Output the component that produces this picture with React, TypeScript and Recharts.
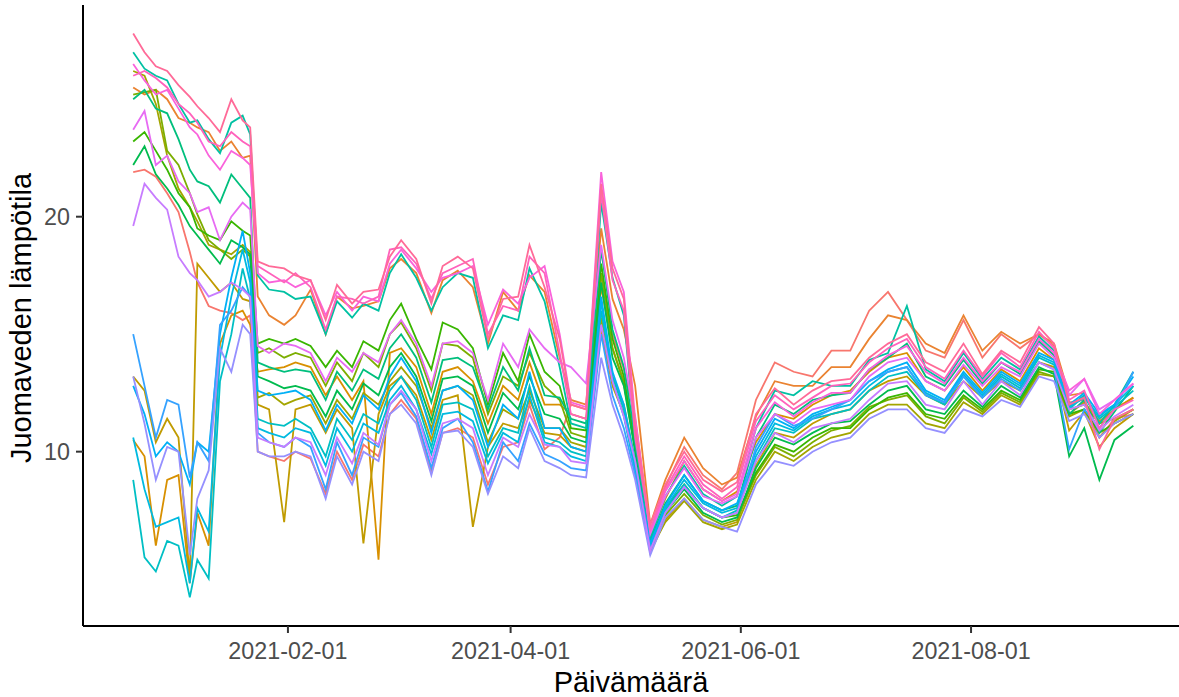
import { LineChart, Line, XAxis, YAxis, Label } from "recharts";

// day index counted from 2021-01-01 (0 = 2021-01-01)
const days = [
  -10, -7, -4, -1, 2, 5, 7, 10, 13, 16, 19, 21,
  23, 26, 30, 33, 37, 41, 44, 48, 51, 55, 58, 61, 65, 69, 72, 76, 80, 84,
  88, 92, 95, 99, 103, 106, 110,
  114, 117, 120, 123, 127, 131, 136, 141, 146, 150,
  155, 160, 165, 170, 175, 180, 185, 190, 195, 200, 205, 210, 215, 220, 225, 230, 234, 238, 242, 246, 250, 255,
];

const s01 = [
  21.9, 22.0, 21.7, 21.0, 20.2, 18.5, 17.2, 16.2, 16.0, 15.9, 15.6, 15.8,
  10.0, 9.8, 9.6, 10.0, 9.7, 8.2, 10.0, 8.8, 10.3, 9.8, 11.6, 12.2, 11.4, 9.1, 10.8, 11.0, 10.6, 8.6,
  10.2, 10.4, 12.0, 10.1, 10.6, 12.0, 11.8,
  17.5, 15.0, 13.5, 11.5, 6.6, 8.5, 10.2, 9.0, 8.4, 9.1,
  12.2, 13.8, 13.4, 13.2, 14.3, 14.3, 16.0, 16.8, 15.6, 14.3, 14.0, 15.6, 14.0, 15.0, 14.4, 15.0, 14.5, 12.1, 12.2, 10.6, 11.4, 11.6,
];
const s02 = [
  25.5, 25.2, 25.4, 25.0, 24.2, 24.0, 23.8, 23.6, 22.8, 23.2, 22.5, 22.6,
  16.6, 15.8, 15.4, 15.8, 16.9, 15.0, 16.6, 16.1, 16.2, 16.4, 17.8, 18.2, 17.6, 15.9, 17.3, 17.7, 17.0, 14.6,
  16.8, 16.0, 17.5, 16.8, 14.0, 12.2, 12.0,
  19.5, 16.5, 15.2, 12.8, 6.9, 8.8, 10.6, 9.3, 8.6, 8.9,
  11.5, 13.0, 12.8, 12.8, 13.6, 13.6, 14.8, 15.8, 15.6, 14.6, 14.2, 15.8, 14.3, 15.1, 14.6, 15.0, 14.6, 12.4, 12.5, 11.2, 11.8, 12.3,
];
const s03 = [
  10.5, 9.8, 6.0, 8.8, 9.0, 4.4, 7.4, 6.0, 14.6, 15.8, 16.0, 15.4,
  13.4, 13.5, 13.6, 13.8, 13.6, 12.4, 13.2, 12.2, 13.0, 5.4, 14.2, 14.4, 13.6, 11.6, 13.4, 13.6, 13.0, 11.2,
  12.8, 12.2, 13.8, 12.0, 12.0, 11.6, 11.4,
  17.0, 14.4, 13.0, 10.2, 6.4, 8.0, 9.6, 8.4, 7.9, 8.3,
  10.4, 11.6, 11.4, 12.0, 12.4, 12.6, 13.4, 14.0, 14.2, 13.0, 12.6, 13.6, 12.6, 13.5, 13.0, 14.4, 13.9, 11.6, 12.1, 11.3, 11.8, 12.3,
];
const s04 = [
  13.2, 12.6, 10.4, 11.4, 10.6, 4.6, 18.0, 17.4, 16.8, 17.2, 16.5, 16.4,
  12.0, 11.8, 7.0, 11.8, 12.0, 10.8, 11.8, 11.0, 6.1, 11.6, 12.8, 13.2, 12.4, 10.5, 12.2, 12.4, 6.8, 10.2,
  11.2, 11.0, 12.2, 10.8, 10.7, 10.2, 10.0,
  15.2, 12.8, 11.6, 9.3, 5.7, 7.1, 8.0, 7.1, 6.8, 7.0,
  9.4, 10.8, 10.6, 11.2, 11.6, 11.8, 12.6, 13.0, 13.2, 12.4, 12.0, 13.0, 12.3, 13.0, 12.6, 13.8, 13.6, 10.9, 11.7, 10.2, 11.0, 11.6,
];
const s05 = [
  26.2, 26.0, 24.8, 22.6, 21.2, 20.4, 19.8, 18.8, 18.6, 18.4, 18.8, 18.5,
  12.3, 12.5, 12.0, 12.2, 12.4, 11.2, 12.2, 11.4, 12.5, 12.0, 13.0, 13.6, 12.8, 11.0, 12.6, 12.8, 12.4, 10.4,
  11.8, 11.4, 12.6, 11.0, 11.0, 10.4, 10.2,
  15.7, 13.2, 12.0, 9.6, 5.8, 7.0, 7.9, 7.0, 6.7, 6.9,
  8.8, 10.0, 9.6, 10.2, 10.6, 10.8, 11.6, 12.0, 12.0, 11.2, 11.0, 12.1, 11.6, 12.4, 12.0, 13.3, 13.2, 11.5, 11.8, 10.6, 11.3, 11.8,
];
const s06 = [
  25.2, 25.3, 25.4, 22.8, 22.2, 21.0, 20.1, 19.0, 18.6, 18.2, 18.6, 18.3,
  14.2, 14.4, 14.0, 14.2, 14.0, 12.8, 13.8, 13.0, 14.2, 13.6, 15.0, 15.5, 14.4, 12.6, 14.6, 14.5, 14.0, 11.6,
  13.2, 12.8, 14.2, 12.8, 12.2, 10.8, 10.6,
  17.6, 14.4, 12.9, 10.1, 6.0, 7.3, 8.2, 7.3, 6.9, 7.1,
  9.0, 10.2, 9.8, 10.4, 10.9, 11.1, 11.9, 12.2, 12.4, 11.5, 11.2, 12.3, 11.7, 12.5, 12.1, 13.4, 13.2, 11.8, 12.0, 11.2, 11.4, 11.8,
];
const s07 = [
  23.2, 23.6, 22.8, 22.0, 21.0, 20.4, 19.5, 19.2, 19.0, 19.8, 19.4, 19.2,
  14.6, 14.8, 14.6, 14.8, 14.5, 13.6, 14.3, 13.6, 14.7, 14.3, 15.6, 16.3, 14.8, 13.5, 15.5, 15.2, 14.4, 12.0,
  14.2, 13.0, 15.0, 13.4, 12.8, 11.0, 10.9,
  18.0, 14.8, 13.2, 10.3, 6.1, 7.6, 8.6, 7.6, 7.2, 7.3,
  9.1, 10.3, 10.0, 10.6, 11.0, 11.0, 11.8, 12.3, 12.5, 11.6, 11.4, 12.4, 11.8, 12.6, 12.2, 13.5, 13.4, 11.6, 11.8, 10.8, 11.2, 11.6,
];
const s08 = [
  22.2, 23.0, 21.8, 21.2, 20.5, 19.6, 19.2, 18.6, 18.0, 19.0, 18.7, 18.4,
  13.2, 13.0, 12.7, 12.8, 12.6, 11.5, 12.6, 11.8, 12.9, 12.4, 13.6, 14.2, 13.2, 11.3, 13.1, 13.2, 12.8, 10.8,
  12.5, 11.8, 13.2, 11.6, 11.4, 10.6, 10.4,
  17.2, 14.0, 12.8, 10.0, 5.9, 7.4, 8.4, 7.4, 7.0, 7.2,
  9.3, 10.6, 10.3, 10.8, 11.2, 11.3, 12.0, 12.6, 12.8, 11.8, 11.6, 12.6, 11.9, 12.8, 12.3, 13.6, 13.3, 9.8, 11.0, 8.8, 10.5, 11.1,
];
const s09 = [
  25.0, 25.4, 24.6, 24.4, 23.3, 22.0, 21.5, 21.3, 20.6, 21.8, 21.2, 20.8,
  13.8, 13.6, 13.4, 13.5, 13.4, 12.2, 13.4, 12.6, 13.5, 13.1, 14.4, 15.0, 14.0, 12.1, 13.9, 14.0, 13.6, 11.8,
  13.6, 12.6, 14.4, 12.4, 12.3, 11.4, 11.2,
  18.6, 15.2, 13.6, 10.6, 6.2, 7.8, 9.0, 7.9, 7.5, 7.7,
  10.6, 12.0, 11.6, 12.2, 12.4, 12.5, 13.5, 14.0, 14.6, 13.2, 12.8, 13.9, 12.9, 13.8, 13.3, 14.7, 14.1, 11.6, 12.2, 10.8, 11.7, 12.8,
];
const s10 = [
  27.0, 26.3, 26.0, 25.8, 24.8, 24.0, 24.1, 23.3, 22.7, 24.0, 24.3, 23.5,
  17.5, 16.9, 16.8, 16.5, 16.6, 15.0, 16.4, 15.7, 16.3, 16.0, 17.6, 18.4, 17.4, 16.0, 17.0, 17.6, 17.4, 14.4,
  15.8, 15.6, 17.8, 16.4, 13.6, 11.2, 11.0,
  20.6, 17.4, 15.8, 10.4, 6.3, 8.1, 9.4, 8.2, 7.7, 8.1,
  11.0, 12.6, 12.4, 13.0, 12.8, 12.8, 13.9, 14.2, 16.2, 13.5, 13.0, 14.2, 13.1, 14.0, 13.5, 14.9, 14.3, 11.9, 12.4, 11.2, 12.0, 13.4,
];
const s11 = [
  8.8, 5.5, 4.9, 6.2, 6.0, 3.8, 5.4, 4.6, 13.0, 15.0, 17.8, 16.5,
  11.4, 11.2, 11.1, 11.4, 11.0, 9.8, 11.4, 10.5, 11.6, 11.2, 12.6, 13.2, 12.2, 10.2, 12.0, 12.1, 11.8, 9.8,
  11.0, 10.8, 12.8, 10.6, 10.4, 10.0, 9.8,
  16.0, 13.2, 11.8, 9.4, 5.9, 7.5, 8.6, 7.6, 7.2, 7.5,
  9.6, 11.0, 10.8, 11.4, 11.6, 11.8, 12.6, 13.2, 13.4, 12.4, 12.0, 13.2, 12.3, 13.2, 12.7, 14.0, 13.7, 11.8, 12.4, 11.4, 11.9, 12.6,
];
const s12 = [
  10.6, 8.4, 6.8, 7.0, 7.2, 4.4, 7.6, 6.6, 14.0, 16.6, 18.6, 17.2,
  11.0, 10.8, 10.6, 11.0, 10.8, 9.4, 11.0, 10.0, 11.2, 10.8, 12.2, 12.8, 11.8, 9.9, 11.6, 11.7, 11.3, 9.5,
  10.8, 10.4, 12.4, 10.4, 10.2, 9.8, 9.6,
  16.4, 13.0, 11.5, 9.2, 6.0, 7.6, 8.8, 7.8, 7.4, 7.6,
  9.8, 11.2, 10.9, 11.5, 11.8, 12.0, 12.8, 13.4, 13.6, 12.5, 12.1, 13.3, 12.4, 13.3, 12.8, 14.1, 13.8, 11.9, 12.3, 11.5, 12.0, 12.8,
];
const s13 = [
  12.8, 11.6, 9.8, 10.4, 10.0, 8.6, 10.4, 10.0, 15.0, 17.4, 19.4, 17.6,
  12.6, 12.4, 12.5, 12.6, 12.2, 10.9, 12.0, 11.2, 12.4, 11.8, 13.2, 14.0, 13.0, 10.8, 12.6, 12.8, 12.2, 10.2,
  12.0, 11.4, 13.4, 11.0, 11.0, 10.2, 10.0,
  16.6, 13.4, 12.0, 9.6, 6.1, 7.7, 9.0, 7.9, 7.5, 7.8,
  10.0, 11.4, 11.0, 11.6, 11.9, 12.2, 13.0, 13.5, 13.8, 12.6, 12.2, 13.4, 12.5, 13.4, 12.9, 14.2, 13.9, 12.0, 12.5, 11.6, 12.0, 13.2,
];
const s14 = [
  15.0, 12.8, 10.6, 12.2, 12.0, 8.9, 10.4, 9.6, 15.4, 16.0, 17.0, 16.6,
  10.8, 10.4, 10.2, 10.6, 10.2, 8.4, 10.4, 9.0, 10.6, 10.2, 12.0, 12.5, 11.5, 9.3, 11.0, 11.4, 10.4, 8.3,
  10.4, 9.6, 11.2, 9.9, 9.6, 9.3, 9.2,
  15.0, 12.4, 11.0, 9.0, 5.8, 7.4, 8.5, 7.6, 7.2, 7.4,
  10.2, 11.6, 11.1, 11.4, 11.8, 12.2, 13.0, 13.4, 13.6, 12.4, 12.1, 13.2, 12.3, 13.1, 12.6, 13.8, 13.5, 10.1, 11.8, 11.0, 11.8, 13.4,
];
const s15 = [
  13.2, 11.2, 8.8, 10.2, 10.0, 5.6, 8.0, 9.2, 14.4, 13.4, 15.4, 15.0,
  10.0, 9.8, 9.8, 10.0, 9.8, 8.0, 9.8, 8.6, 10.0, 9.6, 11.6, 12.0, 11.2, 9.0, 10.8, 10.9, 10.2, 8.2,
  9.8, 9.3, 11.0, 9.6, 9.3, 9.0, 8.9,
  14.0, 12.0, 10.6, 8.8, 5.6, 7.2, 8.0, 7.1, 6.8, 6.6,
  8.6, 9.6, 9.4, 10.0, 10.4, 10.6, 11.4, 11.8, 11.8, 11.0, 10.8, 11.8, 11.5, 12.2, 11.9, 13.2, 13.0, 11.3, 11.6, 10.6, 11.2, 11.6,
];
const s16 = [
  19.6, 21.4, 20.8, 20.3, 18.3, 17.6, 17.3, 16.6, 16.8, 17.2, 16.9, 16.6,
  10.6, 10.4, 10.2, 10.6, 10.4, 9.0, 10.6, 9.5, 10.8, 10.3, 12.0, 12.6, 11.8, 9.6, 11.2, 11.4, 11.0, 9.0,
  10.6, 10.2, 11.6, 10.3, 10.2, 9.6, 9.5,
  15.4, 13.0, 11.5, 9.6, 5.8, 7.4, 8.5, 7.6, 7.2, 7.4,
  9.6, 10.8, 10.4, 11.0, 11.2, 11.4, 12.2, 12.9, 13.0, 12.0, 11.8, 13.0, 12.0, 13.0, 12.4, 13.8, 13.5, 11.8, 12.0, 10.9, 11.5, 12.0,
];
const s17 = [
  23.7, 24.5, 22.2, 22.6, 21.5, 21.0, 20.2, 20.4, 19.0, 20.0, 20.6, 20.3,
  14.5, 14.2, 14.6, 14.5, 14.2, 13.0, 14.0, 13.4, 14.2, 13.8, 15.0, 15.6, 14.6, 12.8, 14.6, 14.7, 14.2, 12.2,
  14.6, 13.6, 15.2, 14.4, 13.8, 13.6, 12.9,
  18.8, 15.6, 14.0, 11.3, 6.5, 8.1, 9.3, 8.1, 7.8, 8.1,
  10.6, 11.6, 11.2, 11.8, 12.0, 12.2, 13.2, 13.8, 14.0, 13.0, 12.6, 13.7, 12.8, 13.6, 13.2, 14.6, 14.0, 12.4, 13.1, 11.8, 12.2, 12.9,
];
const s18 = [
  26.5, 25.8, 25.2, 25.4, 24.6, 23.8, 23.5, 22.6, 22.0, 22.8, 22.5, 22.2,
  17.6, 17.2, 17.3, 17.0, 17.3, 15.8, 16.8, 16.0, 16.6, 16.4, 18.0, 18.6, 17.8, 16.8, 17.4, 17.6, 17.9, 15.4,
  16.9, 16.3, 17.4, 17.9, 15.0, 12.1, 11.9,
  21.9, 18.1, 16.8, 11.4, 6.6, 8.3, 9.6, 8.4, 7.9, 8.2,
  11.0, 12.1, 11.5, 12.1, 12.5, 12.5, 13.5, 14.1, 14.5, 13.4, 12.9, 14.0, 13.0, 13.8, 13.4, 14.8, 14.2, 12.6, 13.1, 11.6, 12.2, 12.9,
];
const s19 = [
  26.0, 26.2, 25.9, 25.5, 24.8, 24.4, 24.0, 23.2, 23.0, 23.6, 23.2, 23.0,
  17.9, 17.6, 17.2, 17.6, 17.0, 15.2, 16.6, 16.5, 16.3, 16.6, 18.6, 18.7, 18.0, 16.5, 17.6, 17.9, 18.2, 15.0,
  16.2, 16.0, 18.3, 17.6, 14.2, 11.6, 11.4,
  21.0, 17.3, 16.0, 10.6, 6.7, 8.4, 9.8, 8.6, 8.0, 8.5,
  11.3, 12.4, 11.8, 12.3, 12.8, 12.9, 13.8, 14.4, 14.8, 13.6, 13.1, 14.3, 13.2, 14.2, 13.6, 15.1, 14.4, 12.2, 12.6, 11.0, 11.8, 12.2,
];
const s20 = [
  27.8, 27.0, 26.4, 26.2, 25.6, 25.1, 24.7, 24.2, 23.6, 25.0, 24.1, 23.8,
  18.1, 17.9, 17.8, 17.5, 17.3, 15.6, 17.1, 16.3, 16.8, 16.9, 18.3, 19.0, 18.2, 16.3, 17.9, 18.3, 17.8, 14.8,
  16.5, 16.6, 18.8, 17.0, 14.8, 12.0, 11.8,
  21.4, 17.8, 16.5, 11.0, 6.9, 8.6, 10.0, 8.8, 8.3, 8.7,
  11.6, 12.7, 12.0, 12.6, 13.0, 13.1, 14.0, 14.6, 15.0, 13.8, 13.4, 14.6, 13.3, 14.3, 13.8, 15.3, 14.6, 12.0, 12.3, 10.1, 11.4, 11.8,
];

const series = [s01, s02, s03, s04, s05, s06, s07, s08, s09, s10, s11, s12, s13, s14, s15, s16, s17, s18, s19, s20];

// ggplot2 default hue palette for 20 groups
const colors = [
  "#F8766D", "#EA8331", "#D89000", "#C09B00", "#A3A500",
  "#7CAE00", "#39B600", "#00BB4E", "#00BF7D", "#00C1A3",
  "#00BFC4", "#00BAE0", "#00B0F6", "#35A2FF", "#9590FF",
  "#C77CFF", "#E76BF3", "#FA62DB", "#FF62BC", "#FF6A98",
];

const xTicks = [31, 90, 151, 212];
const yTicks = [10, 20];

const toDate = (d: number) =>
  new Date(Date.UTC(2021, 0, 1 + d)).toISOString().slice(0, 10);

const rows = days.map((d, i) => {
  const row: Record<string, number> = { d };
  series.forEach((vals, k) => {
    row[`s${k + 1}`] = vals[i];
  });
  return row;
});

const font = "'Liberation Sans', Arial, sans-serif";

export default function App() {
  return (
    <div style={{ position: "absolute", left: 0, top: 0, background: "#fff" }}>
      <LineChart
        width={1179}
        height={697}
        data={rows}
        margin={{ top: 5, right: 0, bottom: 0, left: 0 }}
      >
        <XAxis
          dataKey="d"
          type="number"
          domain={[-23.3, 267.1]}
          allowDataOverflow
          ticks={xTicks}
          interval={0}
          tickFormatter={toDate}
          height={71}
          tickSize={7}
          tickMargin={9}
          axisLine={{ stroke: "#000", strokeWidth: 2 }}
          tickLine={{ stroke: "#333", strokeWidth: 2 }}
          tick={{ fill: "#4D4D4D", fontSize: 23.3, fontFamily: font }}
        >
          <Label
            content={() => (
              <text x={631} y={692} textAnchor="middle" fontSize={29} fontFamily={font} fill="#000">
                Päivämäärä
              </text>
            )}
          />
        </XAxis>
        <YAxis
          type="number"
          domain={[2.58, 29.01]}
          allowDataOverflow
          ticks={yTicks}
          interval={0}
          width={83}
          tickSize={7}
          tickMargin={6}
          axisLine={{ stroke: "#000", strokeWidth: 2 }}
          tickLine={{ stroke: "#333", strokeWidth: 2 }}
          tick={{ fill: "#4D4D4D", fontSize: 23.3, fontFamily: font }}
        >
          <Label
            content={() => (
              <text
                x={31}
                y={318}
                transform="rotate(-90 31 318)"
                textAnchor="middle"
                fontSize={29}
                fontFamily={font}
                fill="#000"
              >
                Juomaveden lämpötila
              </text>
            )}
          />
        </YAxis>
        {colors.map((c, k) => (
          <Line
            key={c}
            type="linear"
            dataKey={`s${k + 1}`}
            stroke={c}
            strokeWidth={1.8}
            dot={false}
            activeDot={false}
            isAnimationActive={false}
          />
        ))}
      </LineChart>
    </div>
  );
}
